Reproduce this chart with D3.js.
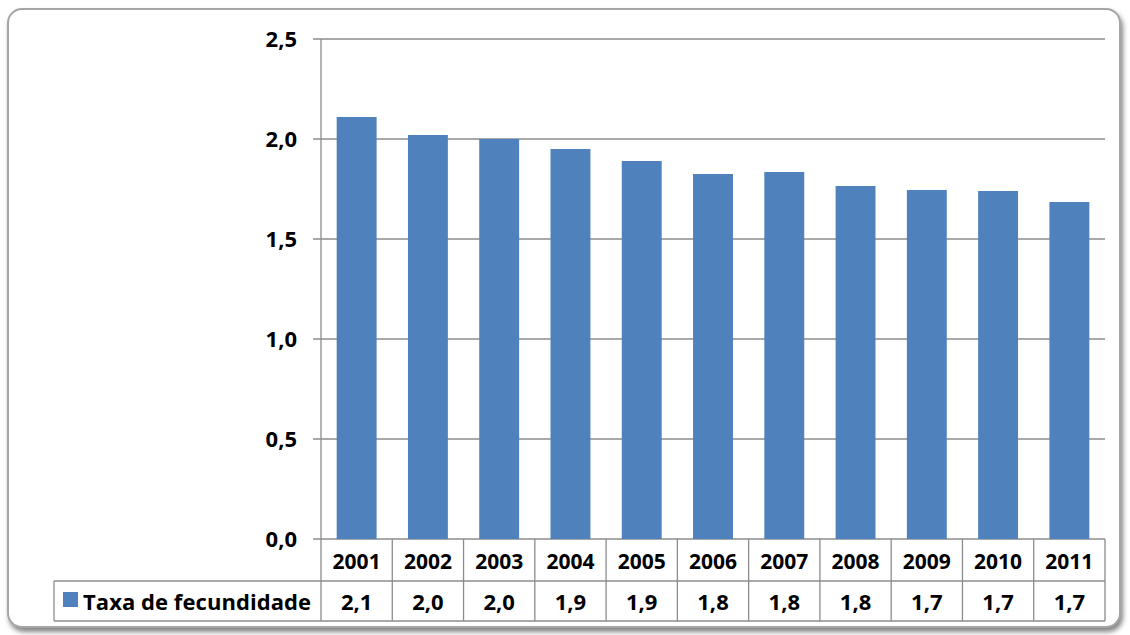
<!DOCTYPE html><html><head><meta charset="utf-8">
<script src="https://cdn.jsdelivr.net/npm/d3@7"></script>
<style>body{margin:0;background:#fff}svg{font-family:"Open Sans",sans-serif;font-weight:bold}</style></head><body>
<svg id="c" width="1130" height="635"></svg>
<script>
const years=["2001","2002","2003","2004","2005","2006","2007","2008","2009","2010","2011"];
const values=[2.11,2.02,2.00,1.95,1.89,1.825,1.835,1.765,1.745,1.74,1.685];
const tableLabels=["2,1","2,0","2,0","1,9","1,9","1,8","1,8","1,8","1,7","1,7","1,7"];
const yTicks=[0,0.5,1,1.5,2,2.5];
const seriesName="Taxa de fecundidade";
const svg=d3.select("#c");
const defs=svg.append("defs");
const f=defs.append("filter").attr("id","sh").attr("x","-5%").attr("y","-5%").attr("width","110%").attr("height","110%");
f.append("feDropShadow").attr("dx",2).attr("dy",4).attr("stdDeviation",2.5).attr("flood-color","#666").attr("flood-opacity",0.8);
svg.append("rect").attr("x",8).attr("y",9).attr("width",1112).attr("height",618).attr("rx",14)
 .attr("fill","#fff").attr("stroke","#a6a6a6").attr("stroke-width",2).attr("filter","url(#sh)");
const L=321,R=1105,T=39,B=539;
const x=d3.scaleBand().domain(years).range([L,R]);
const y=d3.scaleLinear().domain([0,2.5]).range([B,T]);
const g=svg.append("g");
g.selectAll(".gl").data(yTicks).join("line").attr("x1",313).attr("x2",R).attr("y1",d=>y(d)).attr("y2",d=>y(d)).attr("stroke","#8c8c8c").attr("stroke-width",1.3);
g.append("line").attr("x1",L).attr("x2",L).attr("y1",T).attr("y2",B).attr("stroke","#8c8c8c").attr("stroke-width",1.3);
g.selectAll(".yt").data(yTicks).join("text").attr("x",297).attr("y",d=>y(d)+8).attr("text-anchor","end").attr("font-size",22).text(d=>d.toFixed(1).replace(".",","));
const bw=x.bandwidth()*0.56;
g.selectAll(".bar").data(values).join("rect").attr("x",(d,i)=>x(years[i])+(x.bandwidth()-bw)/2).attr("width",bw)
 .attr("y",d=>y(d)).attr("height",d=>B-y(d)).attr("fill","#4f81bd");
const r1=581,r2=621,TL=54;
const st="#8c8c8c";
g.append("line").attr("x1",TL).attr("x2",R).attr("y1",r1).attr("y2",r1).attr("stroke",st).attr("stroke-width",1.3);
g.append("line").attr("x1",TL).attr("x2",R).attr("y1",r2).attr("y2",r2).attr("stroke",st).attr("stroke-width",1.3);
g.append("line").attr("x1",TL).attr("x2",TL).attr("y1",r1).attr("y2",r2).attr("stroke",st).attr("stroke-width",1.3);
const edges=years.map(d=>x(d)).concat([R]);
g.selectAll(".vl").data(edges).join("line").attr("x1",d=>d).attr("x2",d=>d).attr("y1",B).attr("y2",r2).attr("stroke",st).attr("stroke-width",1.3);
g.selectAll(".xt").data(years).join("text").attr("x",d=>x(d)+x.bandwidth()/2).attr("y",569).attr("text-anchor","middle").attr("font-size",21).text(d=>d);
g.selectAll(".tv").data(tableLabels).join("text").attr("x",(d,i)=>x(years[i])+x.bandwidth()/2).attr("y",610).attr("text-anchor","middle").attr("font-size",22).text(d=>d);
g.append("rect").attr("x",63).attr("y",592).attr("width",15).attr("height",15).attr("fill","#4f81bd");
g.append("text").attr("x",83).attr("y",610).attr("font-size",22).attr("textLength",228).text(seriesName);
</script></body></html>
